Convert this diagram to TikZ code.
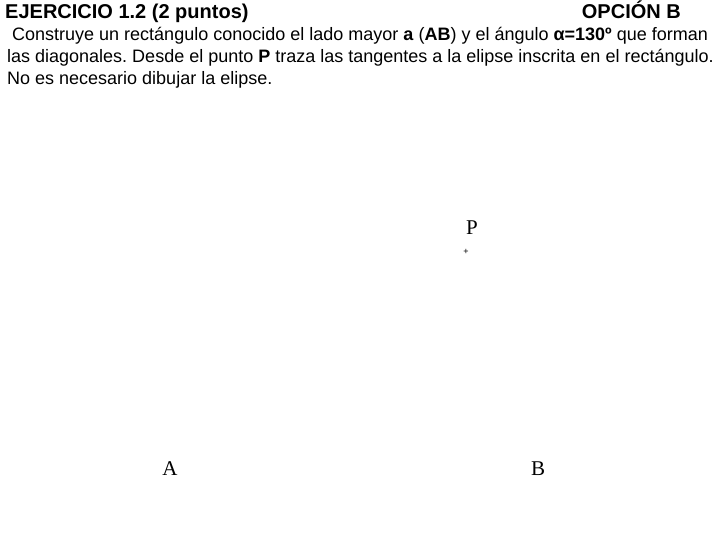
\documentclass[tikz,border=0pt]{standalone}
\usepackage{fontspec}
\setmainfont{Liberation Sans}
\newfontfamily\serifP{Liberation Serif}
\frenchspacing
\begin{document}
\begin{tikzpicture}[x=1pt,y=-1pt,
  txt/.style={anchor=base west,inner sep=0pt,font=\fontsize{18}{22}\selectfont},
  ttl/.style={anchor=base west,inner sep=0pt,font=\fontsize{20}{24}\selectfont\bfseries},
  lbl/.style={inner sep=0pt,font=\serifP\fontsize{21}{24}\selectfont}]
\useasboundingbox (0,0) rectangle (720,540);
\node[ttl] (t1) at (5,19) {EJERCICIO 1.2 (2 puntos)};
\node[ttl,anchor=base east] (t2) at (681,19) {OPCIÓN B};
\node[txt] (l1) at (12,41) {Construye un rectángulo conocido el lado mayor \textbf{a} (\textbf{AB}) y el ángulo \textbf{α=130º} que forman};
\node[txt] (l2) at (7,63) {las diagonales. Desde el punto \textbf{P} traza las tangentes a la elipse inscrita en el rectángulo.};
\node[txt] (l3) at (7,85) {No es necesario dibujar la elipse.};
\node[lbl] (P) at (472,228) {P};
\node[inner sep=0pt,font=\fontsize{9}{9}\selectfont] (pm) at (466,252) {+};
\node[lbl] (A) at (170,469) {A};
\node[lbl] (B) at (538,469) {B};
\end{tikzpicture}
\end{document}
